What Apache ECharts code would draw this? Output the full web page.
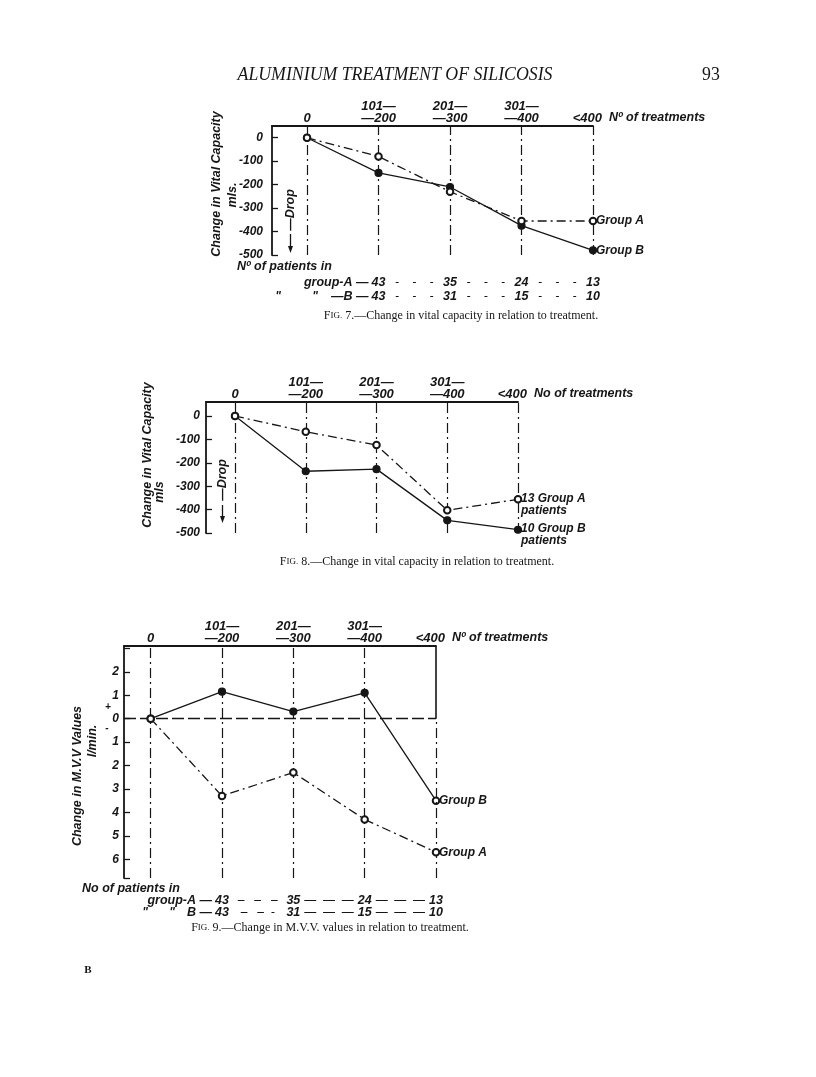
<!DOCTYPE html>
<html><head><meta charset="utf-8">
<script src="https://cdn.jsdelivr.net/npm/echarts@6/dist/echarts.min.js"></script>
<style>html,body{margin:0;padding:0;background:#fff}#c{width:816px;height:1077px}</style>
</head><body><div id="c"></div>
<script>
// ---------- data ----------
const categories = ['0', '101—\n—200', '201—\n—300', '301—\n—400', '<400'];
const fig7GroupA = [0, -80, -230, -355, -355];
const fig7GroupB = [0, -150, -210, -375, -480];
const fig8GroupA = [0, -67, -124, -403, -356];
const fig8GroupB = [0, -236, -227, -446, -486];
const fig9GroupA = [0, -3.3, -2.3, -4.3, -5.7];
const fig9GroupB = [0, 1.15, 0.3, 1.1, -3.5];
const fig7PatientsA = ['43', '35', '24', '13'];
const fig7PatientsB = ['43', '31', '15', '10'];
const fig9PatientsA = ['43', '35', '24', '13'];
const fig9PatientsB = ['43', '31', '15', '10'];
const fig7EndLabels = ['Group A', 'Group B'];
const fig8EndLabels = ['13 Group A\npatients', '10 Group B\npatients'];
const fig9EndLabels = ['Group A', 'Group B'];

// ---------- style ----------
const INK = '#161616';
const SANS = '"Liberation Sans", Arial, sans-serif';
const SERIF = '"Liberation Serif", "Times New Roman", serif';
const lab = {fontFamily: SANS, fontStyle: 'italic', fontWeight: 'bold', fontSize: 12, color: INK};
const DASHDOT = [10, 4, 2, 4];

const grids = [
  {left: 272, top: 126, width: 321, height: 129},
  {left: 206, top: 402, width: 312, height: 131},
  {left: 124, top: 646, width: 312, height: 232}
];
const xMins = [-0.49, -0.41, -0.374];
const yCfg = [
  {min: -500, max: 50, interval: 100, margin: 9, fmt: v => (v % 100 === 0 ? String(v) : '')},
  {min: -500, max: 60, interval: 100, margin: 6, fmt: v => (v % 100 === 0 ? String(v) : '')},
  {min: -6.8, max: 3.1, splitNumber: 10, margin: 5, fmt: v => (Number.isInteger(v) && v < 3 ? String(Math.abs(v)) : '')}
];

const chart = echarts.init(document.getElementById('c'), null, {renderer: 'canvas'});

function xAxisFor(gi) {
  return {gridIndex: gi, type: 'value', min: xMins[gi], max: 4, position: 'top',
    axisLine: {show: true, onZero: false, lineStyle: {color: INK, width: 1.8}},
    axisTick: {show: false}, axisLabel: {show: false}, splitLine: {show: false}};
}
function yAxisFor(gi) {
  const c = yCfg[gi];
  const a = {gridIndex: gi, type: 'value', min: c.min, max: c.max,
    axisLine: {show: true, onZero: false, lineStyle: {color: INK, width: 1.8}},
    axisTick: {show: true, inside: true, length: 6, lineStyle: {color: INK, width: 1.3}},
    axisLabel: Object.assign({}, lab, {margin: c.margin, formatter: c.fmt, showMaxLabel: false}),
    splitLine: {show: false}};
  if (c.interval) a.interval = c.interval;
  if (c.splitNumber) a.splitNumber = c.splitNumber;
  return a;
}
function lineSeries(gi, values, open, label, labelOpts, lastOpen) {
  return {
    type: 'line', xAxisIndex: gi, yAxisIndex: gi,
    data: values.map((v, i) => (lastOpen && i === values.length - 1) ? {value: [i, v], symbol: 'emptyCircle', symbolSize: 6.5} : [i, v]),
    symbol: open ? 'emptyCircle' : 'circle', symbolSize: open ? 6.5 : 7, showAllSymbol: true,
    lineStyle: {color: INK, width: 1.3, type: open ? [9, 4, 2, 4] : 'solid'},
    itemStyle: {color: INK, borderColor: INK, borderWidth: 1.2},
    endLabel: Object.assign({show: true, formatter: label, distance: 3}, lab, labelOpts || {}),
    emphasis: {disabled: true}, silent: true, animation: false, z: open ? 6 : 4
  };
}
function guides(gi, extra, skipLast) {
  const d = categories.map((c, i) => ({xAxis: i})).filter((d, i) => !(skipLast && i === 4));
  return {type: 'line', xAxisIndex: gi, yAxisIndex: gi, data: [], silent: true, animation: false, z: 1,
    markLine: {symbol: ['none', 'none'], silent: true, animation: false, label: {show: false},
      lineStyle: {color: INK, width: 1.2, type: DASHDOT}, emphasis: {disabled: true},
      data: d.concat(extra || [])}};
}

const fig9Extra = [
  {yAxis: 0, lineStyle: {type: [12, 4], width: 1.3, color: INK}},
  [{coord: [4, yCfg[2].min], lineStyle: {type: DASHDOT, width: 1.2, color: INK}}, {coord: [4, 0]}],
  [{coord: [4, 0], lineStyle: {type: 'solid', width: 1.6, color: INK}}, {coord: [4, yCfg[2].max]}]
];

const twoLine = {lineHeight: 12, verticalAlign: 'top', offset: [0, -7]};

chart.setOption({
  backgroundColor: '#fff',
  animation: false,
  grid: grids.map(g => Object.assign({containLabel: false}, g)),
  xAxis: [0, 1, 2].map(xAxisFor),
  yAxis: [0, 1, 2].map(yAxisFor),
  series: [
    guides(0), guides(1), guides(2, fig9Extra, true),
    lineSeries(0, fig7GroupB, false, fig7EndLabels[1]),
    lineSeries(0, fig7GroupA, true, fig7EndLabels[0]),
    lineSeries(1, fig8GroupB, false, fig8EndLabels[1], twoLine),
    lineSeries(1, fig8GroupA, true, fig8EndLabels[0], twoLine),
    lineSeries(2, fig9GroupB, false, fig9EndLabels[1], null, true),
    lineSeries(2, fig9GroupA, true, fig9EndLabels[0])
  ]
});

// ---------- text decorations placed through the axes ----------
const px = (gi, v) => chart.convertToPixel({xAxisIndex: gi}, v);
const py = (gi, v) => chart.convertToPixel({yAxisIndex: gi}, v);
function T(x, y, text, o) {
  o = o || {};
  return {type: 'text', x: x, y: y, rotation: o.rot || 0, silent: true, z: 10,
    style: Object.assign({text: text, x: 0, y: 0, fill: INK,
      fontFamily: SANS, fontStyle: 'italic', fontWeight: 'bold', fontSize: 12,
      align: 'left', verticalAlign: 'middle', lineHeight: 12}, o.style || {})};
}
const g = [];
const R90 = Math.PI / 2;

// header
g.push(T(395, 75, 'ALUMINIUM TREATMENT OF SILICOSIS', {style: {fontFamily: SERIF, fontWeight: 'normal', fontSize: 17.8, align: 'center'}}));
g.push(T(711, 75, '93', {style: {fontFamily: SERIF, fontWeight: 'normal', fontStyle: 'normal', fontSize: 17.8, align: 'center'}}));

// top category labels + "No of treatments"
[0, 1, 2].forEach(gi => {
  const top = py(gi, yCfg[gi].max) - 2;
  for (let i = 0; i < 4; i++) {
    g.push(T(px(gi, i), top, categories[i], {style: {align: 'center', verticalAlign: 'bottom', fontSize: 13, lineHeight: 12}}));
  }
  const x4 = px(gi, 4);
  g.push(T(x4 + 9, top, categories[4], {style: {align: 'right', verticalAlign: 'bottom', fontSize: 13}}));
  g.push(T(x4 + 16, top, gi === 1 ? 'No of treatments' : 'Nº of treatments', {style: {align: 'left', verticalAlign: 'bottom', fontSize: 12.5}}));
});

// y axis names
g.push(T(217, 184, 'Change in Vital Capacity', {rot: R90, style: {align: 'center', fontSize: 12.5}}));
g.push(T(233, 195, 'mls.', {rot: R90, style: {align: 'center', fontSize: 12.5}}));
g.push(T(147.5, 455, 'Change in Vital Capacity', {rot: R90, style: {align: 'center', fontSize: 12.5}}));
g.push(T(160, 492, 'mls', {rot: R90, style: {align: 'center', fontSize: 12.5}}));
g.push(T(78, 776, 'Change in M.V.V Values', {rot: R90, style: {align: 'center', fontSize: 12.5}}));
g.push(T(93, 741, 'l/min.', {rot: R90, style: {align: 'center', fontSize: 12.5}}));
g.push(T(108, 707, '+', {style: {align: 'center', fontSize: 10}}));
g.push(T(107, 728, '-', {style: {align: 'center', fontSize: 10}}));

// Drop arrows
function drop(x, yc, y0, y1) {
  g.push(T(x, yc, '—Drop', {rot: R90, style: {align: 'center', fontSize: 12.5}}));
  g.push({type: 'line', silent: true, z: 10, shape: {x1: x, y1: y0, x2: x, y2: y1 - 5}, style: {stroke: INK, lineWidth: 1.3}});
  g.push({type: 'polygon', silent: true, z: 10, shape: {points: [[x - 2.5, y1 - 7], [x + 2.5, y1 - 7], [x, y1]]}, style: {fill: INK}});
}
drop(290.5, 210, 234, 253);
drop(222.5, 480, 505, 523);

// patient rows
function patientRows(gi, ys, title, titleX, A, B, sepsA, sepsB, quoteXs, bPrefix) {
  g.push(T(titleX, ys[0], title, {style: {align: 'left', fontSize: 12.5}}));
  const x1 = px(gi, 1);
  g.push(T(x1 - 10, ys[1], 'group-A —', {style: {align: 'right', fontSize: 12.5}}));
  g.push(T(quoteXs[0], ys[2], '"', {style: {align: 'center'}}));
  g.push(T(quoteXs[1], ys[2], '"', {style: {align: 'center'}}));
  g.push(T(x1 - 10, ys[2], bPrefix, {style: {align: 'right', fontSize: 12.5}}));
  for (let k = 0; k < 4; k++) {
    const x = px(gi, k + 1);
    g.push(T(x, ys[1], A[k], {style: {align: 'center', fontSize: 12.5}}));
    g.push(T(x, ys[2], B[k], {style: {align: 'center', fontSize: 12.5}}));
    if (k < 3) {
      const xm = px(gi, k + 1.5);
      g.push(T(xm, ys[1], sepsA[k], {style: {align: 'center', fontWeight: 'normal'}}));
      g.push(T(xm, ys[2], sepsB[k], {style: {align: 'center', fontWeight: 'normal'}}));
    }
  }
}
patientRows(0, [267, 283, 297], 'Nº of patients in', 237, fig7PatientsA, fig7PatientsB,
  ['-    -    -', '-    -    -', '-    -    -'], ['-    -    -', '-    -    -', '-    -    -'], [278, 315], '—B —');
patientRows(2, [889, 901, 913], 'No of patients in', 82, fig9PatientsA, fig9PatientsB,
  ['–   –   –', '—  —  —', '—  —  —'], ['–   –  -', '—  —  —', '—  —  —'], [145, 172], 'B —');

// captions
function caption(x, y, num, rest) {
  g.push({type: 'text', x: x, y: y, silent: true, z: 10, style: {
    text: '{a|F}{b|IG.} ' + num + '.—' + rest, x: 0, y: 0, fill: INK,
    fontFamily: SERIF, fontSize: 12, fontStyle: 'normal', fontWeight: 'normal',
    align: 'center', verticalAlign: 'middle',
    rich: {a: {fontFamily: SERIF, fontSize: 12, fill: INK}, b: {fontFamily: SERIF, fontSize: 9, fill: INK}}}});
}
caption(461, 316, '7', 'Change in vital capacity in relation to treatment.');
caption(417, 562, '8', 'Change in vital capacity in relation to treatment.');
caption(330, 928, '9', 'Change in M.V.V. values in relation to treatment.');

g.push(T(88, 970, 'B', {style: {fontFamily: SERIF, fontStyle: 'normal', fontWeight: 'bold', fontSize: 11, align: 'center'}}));

chart.setOption({graphic: g});
</script>
</body></html>
